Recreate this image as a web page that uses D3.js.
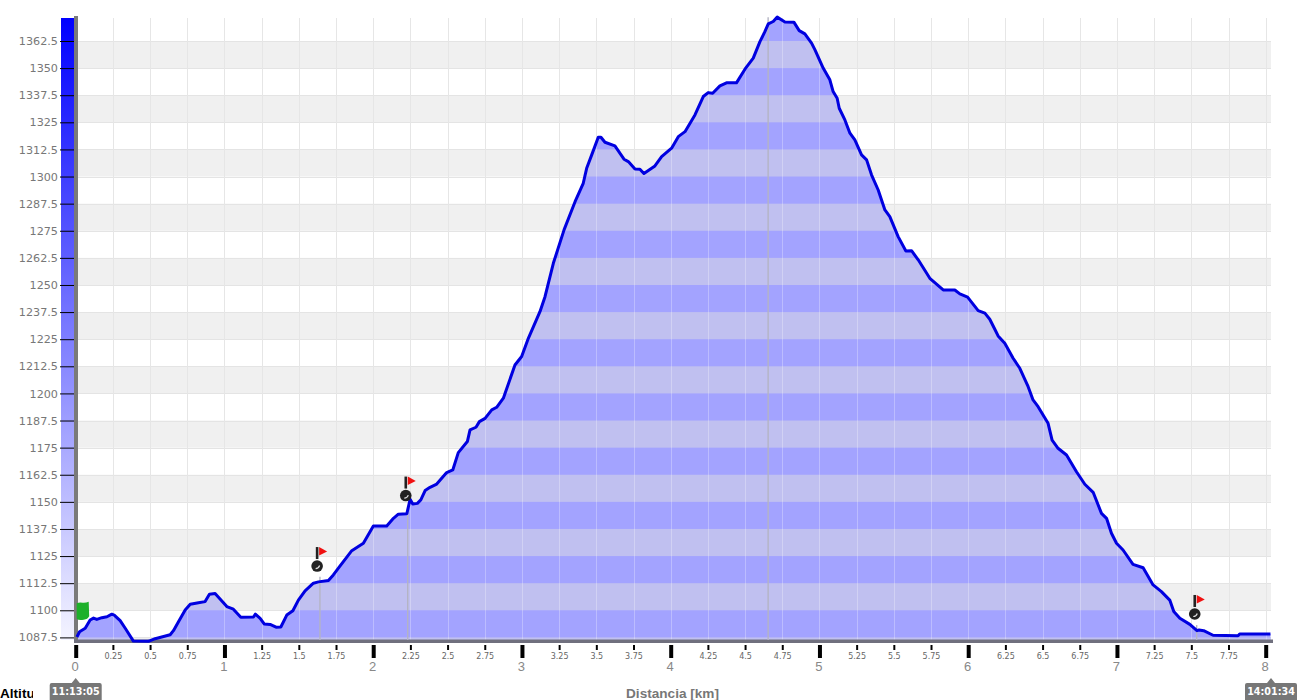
<!DOCTYPE html>
<html><head><meta charset="utf-8">
<script src="https://cdn.jsdelivr.net/npm/d3@7/dist/d3.min.js"></script>
<style>html,body{margin:0;padding:0;background:#fff;overflow:hidden}svg{display:block}</style>
</head><body><svg id="c" width="1301" height="700"></svg>
<script>
const distanceKm=[.008,.026,.064,.097,.12,.142,.176,.21,.243,.259,.299,.333,.388,.489,.534,.635,.657,.691,.736,.77,.825,.87,.899,.937,1.016,1.06,1.11,1.195,1.208,1.24,1.267,1.307,1.347,1.379,1.419,1.46,1.497,1.542,1.598,1.632,1.699,1.732,1.766,1.856,1.934,2.001,2.091,2.136,2.169,2.226,2.248,2.266,2.297,2.32,2.349,2.382,2.427,2.494,2.535,2.572,2.633,2.651,2.691,2.714,2.752,2.797,2.83,2.875,2.953,2.998,3.043,3.121,3.155,3.211,3.283,3.357,3.412,3.435,3.469,3.513,3.531,3.558,3.625,3.686,3.715,3.76,3.793,3.82,3.894,3.939,4.006,4.051,4.096,4.163,4.219,4.252,4.282,4.331,4.375,4.442,4.499,4.555,4.6,4.633,4.656,4.689,4.716,4.768,4.828,4.864,4.902,4.947,4.97,5.025,5.07,5.092,5.119,5.133,5.171,5.205,5.238,5.283,5.317,5.35,5.395,5.44,5.473,5.529,5.581,5.619,5.664,5.742,5.832,5.91,5.944,5.996,6.067,6.112,6.145,6.179,6.201,6.246,6.302,6.347,6.403,6.436,6.47,6.537,6.564,6.604,6.661,6.728,6.784,6.84,6.896,6.93,6.963,6.997,7.041,7.108,7.176,7.243,7.299,7.355,7.382,7.423,7.49,7.538,7.552,7.583,7.646,7.814,7.825,8.032];
const altitudeM=[1087.7,1090.1,1091.7,1095.5,1096.4,1095.8,1096.6,1097,1098.2,1097.8,1095.2,1091.7,1085.8,1085.7,1086.9,1088.7,1090.6,1094.7,1100.1,1102.8,1103.5,1104,1107.4,1107.7,1101.7,1100.5,1096.8,1096.9,1098.2,1096.3,1093.7,1093.5,1092.2,1092.3,1097.8,1099.8,1104.7,1109,1112.5,1113.1,1113.7,1116.3,1119.4,1127.5,1130.9,1138.9,1138.9,1142.4,1144.3,1144.5,1151.2,1149,1149.3,1150.9,1155.2,1156.7,1158.2,1163.5,1164.7,1172.7,1177.8,1183.2,1184.4,1187,1188.5,1192.4,1193.6,1197.8,1213.1,1217,1225.4,1237.7,1244.6,1260,1275.4,1288.4,1296.9,1303.8,1310,1318.1,1318.1,1315.8,1314.1,1308,1306.9,1303.5,1303.4,1301.4,1304.9,1309.2,1313.1,1318.4,1320.7,1328.4,1336.9,1338.7,1338.4,1341.8,1343.2,1343.2,1349.5,1354.6,1362.2,1366.8,1370.4,1371.5,1373.5,1371.3,1371.2,1367.3,1365.8,1361.5,1358.4,1350,1344.6,1339.2,1336.1,1331.5,1326.1,1320,1316.9,1310,1307.7,1300.8,1293.8,1284.6,1281.5,1272.3,1265.7,1265.8,1261.6,1253.1,1247.7,1247.7,1245.9,1244.4,1238.2,1237,1234.2,1229.6,1226.5,1223.1,1216.2,1211.6,1203.1,1197,1193.9,1186.2,1178.5,1174.7,1171.6,1163.9,1158.1,1154.4,1144.7,1142.4,1135.5,1130.9,1127.8,1121.2,1119.6,1111.7,1108.6,1104.7,1099.4,1096.3,1093.5,1090.6,1090.9,1090.6,1088.5,1088.3,1089.1,1089.1];
const yTickValues=[1362.5,1350,1337.5,1325,1312.5,1300,1287.5,1275,1262.5,1250,1237.5,1225,1212.5,1200,1187.5,1175,1162.5,1150,1137.5,1125,1112.5,1100,1087.5];
const xMajorTicks=[0,1,2,3,4,5,6,7,8];
const xMinorTicks=[.25,.5,.75,1.25,1.5,1.75,2.25,2.5,2.75,3.25,3.5,3.75,4.25,4.5,4.75,5.25,5.5,5.75,6.25,6.5,6.75,7.25,7.5,7.75];
const stalkKm=[1.642,2.232,4.655,7.536];
const stalkTop=[1115.5,1146.3,1373.5,1093.2];
const flagKm=[1.623,2.219,7.523];
const flagAlt=[1120.4,1152.9,1098.3];
const startFlag={km:0,alt:1100};
const timeLabels=[{km:0,text:"11:13:05"},{km:8,text:"14:01:34"}];
const yTitle="Altitu",xTitle="Distancia [km]";

const x=d3.scaleLinear().domain([0,8]).range([75.7,1265.7]);
const y=d3.scaleLinear().domain([1087.5,1362.5]).range([637.4,41]);
const left=78,right=1271,top_=18,bottom=640;
const svg=d3.select("#c");
const defs=svg.append("defs");
const pts=distanceKm.map((k,i)=>[k,altitudeM[i]]);
const area=d3.area().x(d=>x(d[0])).y0(bottom+3).y1(d=>y(d[1]));
const line=d3.line().x(d=>x(d[0])).y(d=>y(d[1]));
defs.append("clipPath").attr("id","ac").append("path").attr("d",area(pts));
defs.append("clipPath").attr("id","pc").append("rect").attr("x",left).attr("y",top_).attr("width",right-left).attr("height",bottom-top_);
defs.append("clipPath").attr("id","tc").append("rect").attr("x",0).attr("y",680).attr("width",33).attr("height",20);
const g=defs.append("linearGradient").attr("id","bar").attr("x1",0).attr("x2",0).attr("y1",0).attr("y2",1);
g.append("stop").attr("offset",0).attr("stop-color","#0000ff");
g.append("stop").attr("offset",1).attr("stop-color","#f4f4ff");

// background bands: every second tick interval, plus the strip below the last tick
const bandStarts=yTickValues.filter((v,i)=>i%2===0);
const plot=svg.append("g").attr("clip-path","url(#pc)");
plot.selectAll("rect.b").data(bandStarts).join("rect").attr("class","b")
  .attr("x",left).attr("width",right-left)
  .attr("y",d=>y(d)).attr("height",d=>y(d-12.5)-y(d)).attr("fill","#f0f0f0");
plot.selectAll("line.h").data(yTickValues).join("line")
  .attr("x1",left).attr("x2",right).attr("y1",d=>Math.round(y(d))+.5).attr("y2",d=>Math.round(y(d))+.5)
  .attr("stroke","#e4e4e4");
const allX=[...xMinorTicks,...xMajorTicks];
plot.selectAll("line.v").data(allX).join("line")
  .attr("x1",d=>Math.round(x(d))+.5).attr("x2",d=>Math.round(x(d))+.5).attr("y1",top_).attr("y2",bottom)
  .attr("stroke","#e6e6e6");

// area with alternating stripes
plot.append("path").attr("d",area(pts)).attr("fill","#a3a3ff");
plot.append("g").attr("clip-path","url(#ac)").selectAll("rect").data(bandStarts).join("rect")
  .attr("x",left).attr("width",right-left)
  .attr("y",d=>y(d)).attr("height",d=>y(d-12.5)-y(d)).attr("fill","#c0c0f0");
plot.append("g").attr("clip-path","url(#ac)").selectAll("line").data(allX).join("line")
  .attr("x1",d=>Math.round(x(d))+.5).attr("x2",d=>Math.round(x(d))+.5).attr("y1",top_).attr("y2",bottom)
  .attr("stroke","#fff").attr("stroke-opacity",.28);

// left gradient bar and axis bars
svg.append("rect").attr("x",61).attr("y",top_).attr("width",13).attr("height",bottom-top_).attr("fill","url(#bar)");
svg.append("rect").attr("x",74).attr("y",16).attr("width",4).attr("height",627).attr("fill","#7a7a7a");
svg.append("rect").attr("x",74).attr("y",639.5).attr("width",1199).attr("height",3.5).attr("fill","#70707e");

// waypoint stalks
svg.selectAll("line.s").data(stalkKm).join("line")
  .attr("x1",d=>x(d)).attr("x2",d=>x(d))
  .attr("y1",(d,i)=>y(stalkTop[i])).attr("y2",bottom)
  .attr("stroke","#b4b4c4").attr("stroke-width",1.4);

// profile line
svg.append("path").attr("d",line(pts)).attr("fill","none").attr("stroke","#0000e0").attr("stroke-width",3).attr("stroke-linejoin","round");

// y axis
const ya=svg.append("g").attr("transform","translate(74,0)")
  .call(d3.axisLeft(y).tickValues(yTickValues).tickSize(14).tickPadding(2).tickFormat(d=>String(d)));
ya.select(".domain").remove();
ya.selectAll("line").attr("stroke","#000");
ya.selectAll("text").attr("fill","#777").attr("font-family","DejaVu Sans").attr("font-size",11.2);

// x axes
const xMin=svg.append("g").attr("transform","translate(0,645)")
  .call(d3.axisBottom(x).tickValues(xMinorTicks).tickSize(5).tickPadding(3).tickFormat(d=>String(d)));
xMin.select(".domain").remove();
xMin.selectAll("line").attr("stroke","#000").attr("stroke-width",2);
xMin.selectAll("text").attr("fill","#666").attr("font-family","DejaVu Sans").attr("font-size",8);
const xMaj=svg.append("g").attr("transform","translate(0,645)")
  .call(d3.axisBottom(x).tickValues(xMajorTicks).tickSize(13).tickPadding(4).tickFormat(d=>String(d)));
xMaj.select(".domain").remove();
xMaj.selectAll("line").attr("stroke","#000").attr("stroke-width",4);
xMaj.selectAll("text").attr("fill","#888").attr("font-family","Liberation Sans").attr("font-size",13).attr("dx",-1);

// flags
const flag=svg.selectAll("g.f").data(flagKm).join("g")
  .attr("transform",(d,i)=>`translate(${x(d)},${y(flagAlt[i])})`);
flag.append("rect").attr("x",-1.3).attr("y",-19).attr("width",2.6).attr("height",12).attr("fill","#222");
flag.append("path").attr("d","M2,-19L10,-14.6L2,-10.5Z").attr("fill","#f01010");
flag.append("circle").attr("r",5.8).attr("fill","#222");
flag.append("path").attr("d","M-1.5,2.5Q1.5,2.5 2.5,-0.5").attr("fill","none").attr("stroke","#ddd").attr("stroke-width",1.2);

// start flag
svg.append("path").attr("transform",`translate(${x(startFlag.km)},${y(startFlag.alt)})`)
  .attr("d","M1,-7Q4,-8.5 7,-7.5Q10,-7.2 13,-8.5L13.5,6Q12,9 8,9.5Q3,10.5 1,8.5Z").attr("fill","#1db02a");

// time labels
const tl=svg.selectAll("g.t").data(timeLabels).join("g").attr("transform",d=>`translate(${x(d.km)+(d.km?5.3:0)},0)`);
tl.append("path").attr("d","M-26,685Q-26,683 -24,683L-4,683L0,678L4,683L24,683Q26,683 26,685L26,700L-26,700Z").attr("fill","#777");
tl.append("text").text(d=>d.text).attr("y",695).attr("text-anchor","middle").attr("fill","#fff")
  .attr("font-family","DejaVu Sans").attr("font-weight","bold").attr("font-size",9.6);

// titles
svg.append("text").text(yTitle).attr("x",0).attr("y",697.5).attr("clip-path","url(#tc)")
  .attr("font-family","Liberation Sans").attr("font-weight","bold").attr("font-size",13.6).attr("fill","#000");
svg.append("text").text(xTitle).attr("x",672.5).attr("y",697.5).attr("text-anchor","middle")
  .attr("font-family","Liberation Sans").attr("font-weight","bold").attr("font-size",13.6).attr("fill","#777");
</script></body></html>
